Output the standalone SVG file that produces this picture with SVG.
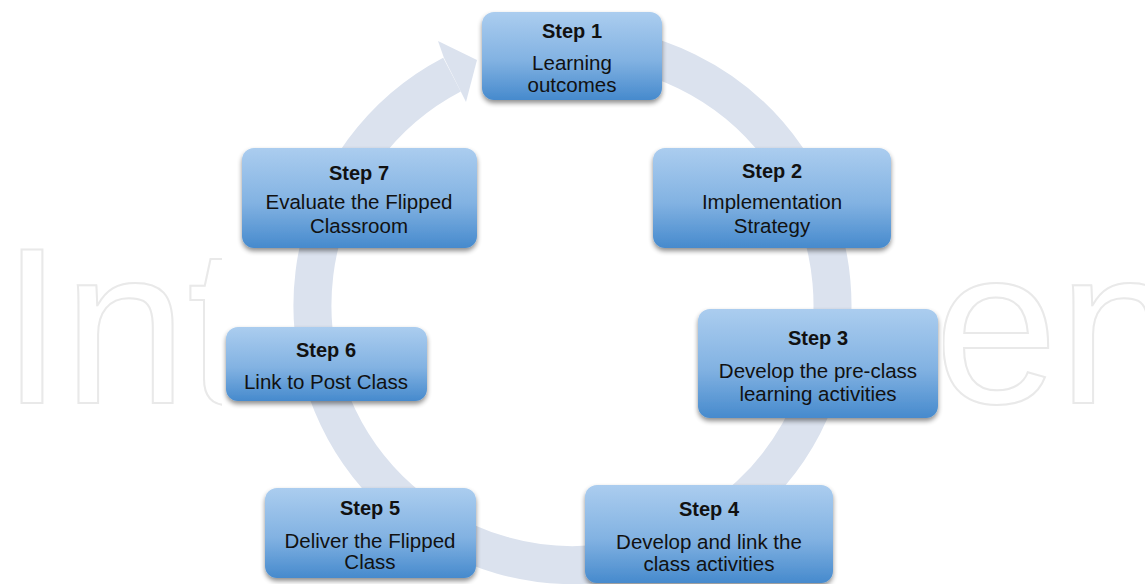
<svg xmlns="http://www.w3.org/2000/svg" width="1145" height="584" viewBox="0 0 1145 584">
  <defs>
    <linearGradient id="boxGrad" x1="0" y1="0" x2="0" y2="1">
      <stop offset="0" stop-color="#abcdef"/>
      <stop offset="0.55" stop-color="#82b2e2"/>
      <stop offset="1" stop-color="#468acd"/>
    </linearGradient>
    <filter id="shadow" x="-10%" y="-10%" width="120%" height="130%">
      <feGaussianBlur in="SourceAlpha" stdDeviation="2.5"/>
      <feOffset dx="0" dy="3" result="b"/>
      <feComponentTransfer><feFuncA type="linear" slope="0.45"/></feComponentTransfer>
      <feMerge><feMergeNode/><feMergeNode in="SourceGraphic"/></feMerge>
    </filter>
    <style>
      .wm { font-family: "Liberation Sans", Arial, sans-serif; font-size: 223px; fill: #ffffff; stroke: #e9e9e9; stroke-width: 2; }
      .box { fill: url(#boxGrad); filter: url(#shadow); }
      .title { font-family: "Liberation Sans", Arial, sans-serif; font-size: 20px; font-weight: bold; fill: #111111; text-anchor: middle; }
      .body { font-family: "Liberation Sans", Arial, sans-serif; font-size: 20.5px; fill: #111111; text-anchor: middle; }
      .ring { fill: none; stroke: #dbe2ee; stroke-width: 38; }
      .head { fill: #dbe2ee; }
    </style>
  </defs>
  <rect width="1145" height="584" fill="#ffffff"/>
  <g id="watermark">
    <text class="wm" x="1" y="403">Int</text>
    <text class="wm" x="934" y="403">en</text>
    <rect x="222" y="0" width="721" height="584" fill="#ffffff"/>
  </g>
  <g id="connectors">
    <path class="ring" d="M 573 45 A 260 260 0 1 1 452 74.6"/>
    <polygon class="head" points="438,41 477,60 466,102 459,88 444,58"/>
  </g>
  <g id="step1">
    <rect class="box" x="482" y="12" width="180" height="88" rx="12"/>
    <text class="title" x="572" y="38">Step 1</text>
    <text class="body" x="572" y="70">Learning</text>
    <text class="body" x="572" y="92">outcomes</text>
  </g>
  <g id="step2">
    <rect class="box" x="653" y="148" width="238" height="100" rx="12"/>
    <text class="title" x="772" y="178">Step 2</text>
    <text class="body" x="772" y="209">Implementation</text>
    <text class="body" x="772" y="233">Strategy</text>
  </g>
  <g id="step3">
    <rect class="box" x="698" y="309" width="240" height="109" rx="12"/>
    <text class="title" x="818" y="345">Step 3</text>
    <text class="body" x="818" y="378">Develop the pre-class</text>
    <text class="body" x="818" y="401">learning activities</text>
  </g>
  <g id="step4">
    <rect class="box" x="585" y="485" width="248" height="98" rx="12"/>
    <text class="title" x="709" y="516">Step 4</text>
    <text class="body" x="709" y="549">Develop and link the</text>
    <text class="body" x="709" y="571">class activities</text>
  </g>
  <g id="step5">
    <rect class="box" x="265" y="488" width="211" height="90" rx="12"/>
    <text class="title" x="370" y="515">Step 5</text>
    <text class="body" x="370" y="548">Deliver the Flipped</text>
    <text class="body" x="370" y="569">Class</text>
  </g>
  <g id="step6">
    <rect class="box" x="226" y="327" width="201" height="74" rx="12"/>
    <text class="title" x="326" y="357">Step 6</text>
    <text class="body" x="326" y="389">Link to Post Class</text>
  </g>
  <g id="step7">
    <rect class="box" x="242" y="148" width="235" height="100" rx="12"/>
    <text class="title" x="359" y="180">Step 7</text>
    <text class="body" x="359" y="209">Evaluate the Flipped</text>
    <text class="body" x="359" y="233">Classroom</text>
  </g>
</svg>
